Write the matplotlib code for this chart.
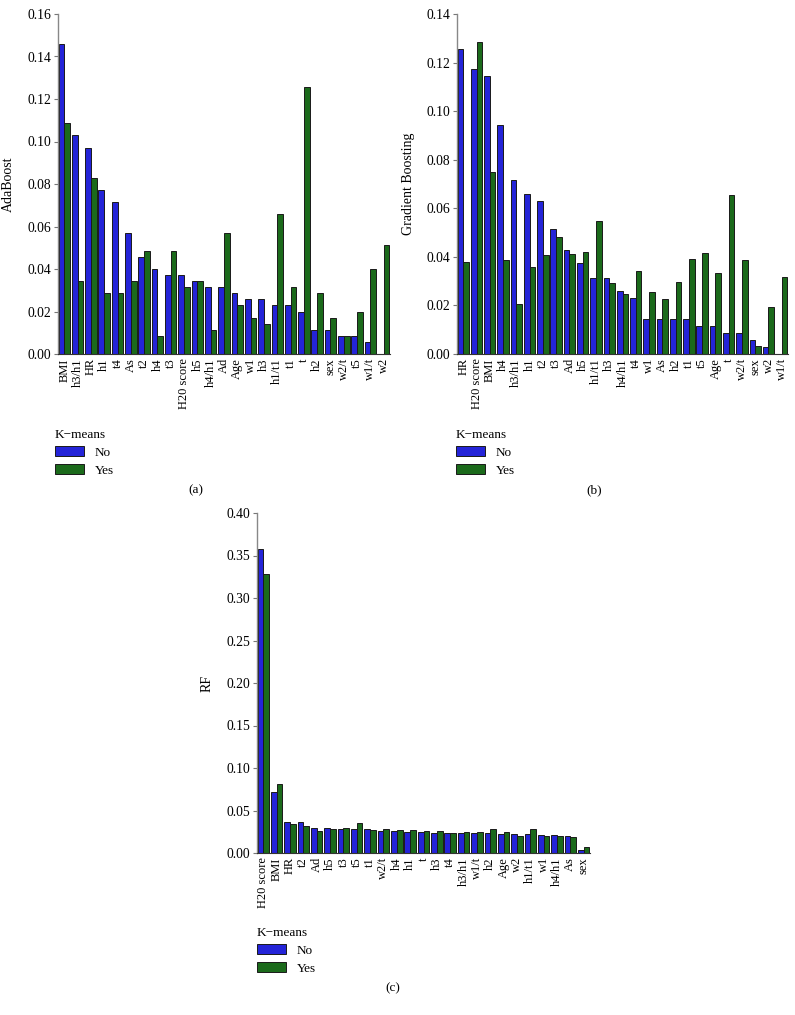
import matplotlib
matplotlib.use("Agg")
import matplotlib.pyplot as plt
from matplotlib.patches import Patch
import numpy as np

plt.rcParams['font.family'] = ['Liberation Serif', 'DejaVu Serif']

# ---- data ----
ada_labels = ["BMI", "h3/h1", "HR", "h1", "t4", "As", "t2", "h4", "t3", "H20 score",
              "h5", "h4/h1", "Ad", "Age", "w1", "h3", "h1/t1", "t1", "t", "h2",
              "sex", "w2/t", "t5", "w1/t", "w2"]
ada_no = [0.1457, 0.1029, 0.0971, 0.0771, 0.0714, 0.0571, 0.0457, 0.0400, 0.0371, 0.0371,
          0.0343, 0.0314, 0.0314, 0.0286, 0.0257, 0.0257, 0.0229, 0.0229, 0.0200, 0.0114,
          0.0114, 0.0086, 0.0086, 0.0057, 0.0]
ada_yes = [0.1086, 0.0343, 0.0829, 0.0286, 0.0286, 0.0343, 0.0486, 0.0086, 0.0486, 0.0314,
           0.0343, 0.0114, 0.0571, 0.0229, 0.0171, 0.0143, 0.0657, 0.0314, 0.1257, 0.0286,
           0.0171, 0.0086, 0.0200, 0.0400, 0.0514]

gb_labels = ["HR", "H20 score", "BMI", "h4", "h3/h1", "h1", "t2", "t3", "Ad", "h5",
             "h1/t1", "h3", "h4/h1", "t4", "w1", "As", "h2", "t1", "t5", "Age",
             "t", "w2/t", "sex", "w2", "w1/t"]
gb_no = [0.1257, 0.1174, 0.1143, 0.0945, 0.0716, 0.0659, 0.0631, 0.0514, 0.0429, 0.0373,
         0.0315, 0.0315, 0.0258, 0.0229, 0.0144, 0.0144, 0.0144, 0.0144, 0.0115, 0.0115,
         0.0086, 0.0086, 0.0058, 0.0029, 0.0]
gb_yes = [0.0378, 0.1286, 0.0749, 0.0387, 0.0204, 0.0357, 0.0407, 0.0481, 0.0413, 0.0422,
          0.0547, 0.0292, 0.0248, 0.0343, 0.0256, 0.0228, 0.0296, 0.0391, 0.0415, 0.0333,
          0.0653, 0.0387, 0.0034, 0.0192, 0.0319]

rf_labels = ["H20 score", "BMI", "HR", "t2", "Ad", "h5", "t3", "t5", "t1", "w2/t",
             "h4", "h1", "t", "h3", "t4", "h3/h1", "w1/t", "h2", "Age", "w2",
             "h1/t1", "w1", "h4/h1", "As", "sex"]
rf_no = [0.358, 0.072, 0.037, 0.037, 0.030, 0.030, 0.028, 0.028, 0.028, 0.026,
         0.0255, 0.0243, 0.0243, 0.0239, 0.0235, 0.0231, 0.0231, 0.0231, 0.022, 0.0223,
         0.022, 0.0212, 0.0212, 0.0204, 0.0031]
rf_yes = [0.328, 0.081, 0.034, 0.032, 0.026, 0.028, 0.029, 0.035, 0.027, 0.028,
          0.027, 0.027, 0.0263, 0.0259, 0.0235, 0.0243, 0.0251, 0.0278, 0.0243, 0.0204,
          0.0286, 0.0204, 0.0196, 0.0192, 0.0067]

series_names = ["No", "Yes"]
legend_title = "K\u2212means"

BLUE = "#2424d8"
GREEN = "#1b6a1b"
EDGE = "#1a1a1a"
FS_X = 9.0
FS_Y = 9.8
FS_LAB = 10.0
FS_LEG = 9.5

fig = plt.figure(figsize=(7.95, 10.15), dpi=100)


def panel(rect, labels, no, yes, ylabel, ymax, ystep, ylab_x):
    ax = fig.add_axes(rect)
    x = np.arange(len(labels))
    w = 0.43
    ax.bar(x - w / 2, no, width=w, color=BLUE, edgecolor=EDGE, linewidth=0.7)
    ax.bar(x + w / 2, yes, width=w, color=GREEN, edgecolor=EDGE, linewidth=0.7)
    ax.set_xlim(-0.47, len(labels) - 0.53)
    ax.set_ylim(0, ymax)
    ticks = np.arange(0, ymax + ystep / 2, ystep)
    ax.set_yticks(ticks)
    ax.set_yticklabels([f"{t:.2f}" for t in ticks], fontsize=FS_Y)
    ax.set_xticks(x)
    ax.set_xticklabels(labels, rotation=90, fontsize=FS_X)
    ax.tick_params(axis='x', length=0, pad=3)
    ax.tick_params(axis='y', length=3, width=0.8, color="#777777", pad=2)
    for s in ("top", "right"):
        ax.spines[s].set_visible(False)
    ax.spines["left"].set_color("#888888")
    ax.spines["left"].set_linewidth(1.0)
    ax.spines["bottom"].set_color("#333333")
    ax.spines["bottom"].set_linewidth(0.8)
    ax.set_ylabel(ylabel, fontsize=FS_LAB)
    ax.yaxis.set_label_coords(ylab_x, 0.5)
    return ax


ax_a = panel([58 / 795, 1 - 354 / 1015, 332 / 795, 340 / 1015], ada_labels, ada_no, ada_yes,
             "AdaBoost", 0.16, 0.02, -0.13)
ax_b = panel([457 / 795, 1 - 354 / 1015, 331 / 795, 340 / 1015], gb_labels, gb_no, gb_yes,
             "Gradient Boosting", 0.14, 0.02, -0.127)
ax_c = panel([257 / 795, 1 - 853 / 1015, 333 / 795, 340 / 1015], rf_labels, rf_no, rf_yes,
             "RF", 0.40, 0.05, -0.132)

handles = [Patch(facecolor=BLUE, edgecolor=EDGE, linewidth=0.7),
           Patch(facecolor=GREEN, edgecolor=EDGE, linewidth=0.7)]


def add_legend(x, y):
    leg = fig.legend(handles, series_names, title=legend_title, loc="upper left",
                     bbox_to_anchor=(x, y), bbox_transform=fig.transFigure,
                     frameon=False, fontsize=FS_LEG, title_fontsize=FS_LEG,
                     handlelength=2.2, handleheight=0.8, labelspacing=0.4,
                     handletextpad=0.8, borderpad=0, borderaxespad=0,
                     alignment="left")
    return leg


add_legend(55 / 795, 1 - 429 / 1015)
add_legend(456 / 795, 1 - 429 / 1015)
add_legend(257 / 795, 1 - 927 / 1015)

fig.text(196 / 795, 1 - 490 / 1015, "(a)", ha="center", va="center", fontsize=FS_LEG)
fig.text(594 / 795, 1 - 490 / 1015, "(b)", ha="center", va="center", fontsize=FS_LEG)
fig.text(393 / 795, 1 - 988 / 1015, "(c)", ha="center", va="center", fontsize=FS_LEG)

fig.savefig("out.png", dpi=100)
